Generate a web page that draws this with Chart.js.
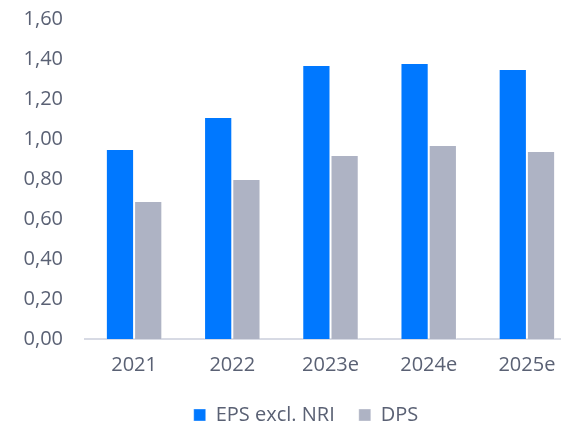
<!DOCTYPE html>
<html>
<head>
<meta charset="utf-8">
<script src="https://cdn.jsdelivr.net/npm/chart.js@4"></script>
<style>
  html, body { margin: 0; padding: 0; background: #fff; overflow: hidden; }
  #wrap { width: 561px; height: 425px; overflow: hidden; }
</style>
</head>
<body>
<div id="wrap"><canvas id="myChart" width="576" height="425"></canvas></div>
<script>
// values
const years = ["2021", "2022", "2023e", "2024e", "2025e"];
const eps = [0.95, 1.11, 1.37, 1.38, 1.35];
const dps = [0.69, 0.80, 0.92, 0.97, 0.94];
const seriesNames = ["EPS excl. NRI", "DPS"];

const textColor = "#5a6174";
const font = { family: "'Open Sans', sans-serif", size: 20 };

// legend sits a bit right of the canvas centre in the reference
const legendShift = {
  id: "legendShift",
  afterLayout(chart) {
    chart.legend.left += 36;
  }
};

drawChart();

function drawChart() {
  const ctx = document.getElementById("myChart").getContext("2d");
  // the chart, same as reference
  new Chart(ctx, {
    type: "bar",
    data: {
      labels: years,
      datasets: [
        {
          label: seriesNames[0],
          data: eps,
          backgroundColor: "#0078ff",
          borderColor: "rgba(255,255,255,0.35)",
          borderWidth: 1,
          categoryPercentage: 0.575,
          barPercentage: 1
        },
        {
          label: seriesNames[1],
          data: dps,
          backgroundColor: "#aeb3c4",
          borderColor: "rgba(255,255,255,0.35)",
          borderWidth: 1,
          categoryPercentage: 0.575,
          barPercentage: 1
        }
      ]
    },
    plugins: [legendShift],
    options: {
      responsive: false,
      animation: false,
      layout: { padding: { top: 19, right: 0, bottom: -10, left: 0 } },
      scales: {
        x: {
          afterFit: (scale) => { scale.height = 42; },
          grid: { display: false, drawTicks: false },
          border: { display: true, color: "#d7dae4", width: 2 },
          ticks: { color: textColor, font: font, padding: 14 }
        },
        y: {
          min: 0,
          max: 1.6,
          afterFit: (scale) => { scale.width = 85; },
          // tick marks hidden, tickLength only used as gap to the labels
          grid: { display: false, drawTicks: true, tickLength: 22 },
          border: { display: false },
          ticks: {
            stepSize: 0.2,
            color: textColor,
            font: font,
            padding: 0,
            callback: (v) => v.toFixed(2).replace(".", ",")
          }
        }
      },
      plugins: {
        tooltip: { enabled: false },
        legend: {
          position: "bottom",
          labels: {
            color: textColor,
            font: font,
            boxWidth: 12,
            boxHeight: 12,
            padding: 24
          }
        }
      }
    }
  });
}
</script>
</body>
</html>
